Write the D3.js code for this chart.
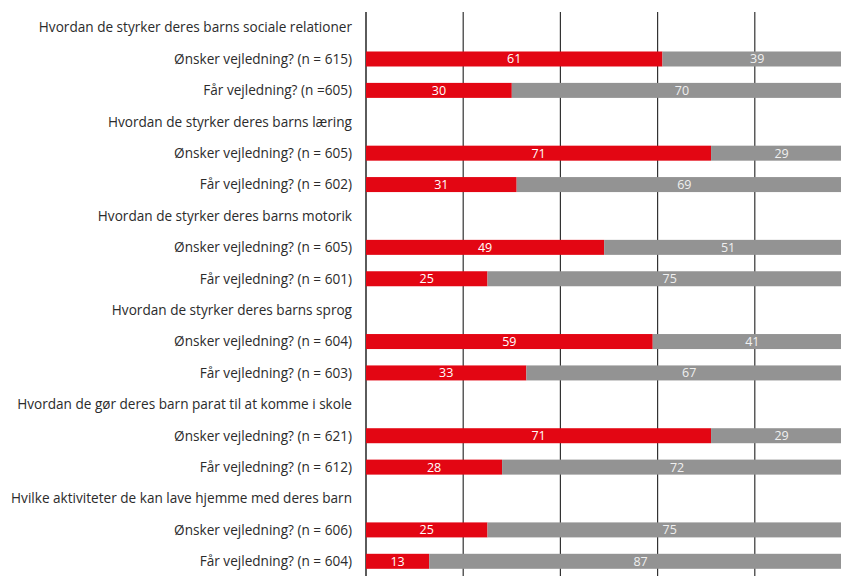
<!DOCTYPE html>
<html>
<head>
<meta charset="utf-8">
<script src="https://cdn.jsdelivr.net/npm/d3@7"></script>
<style>
  body { margin: 0; background: #fff; }
  text { font-family: "Open Sans", "Noto Sans", sans-serif; }
</style>
</head>
<body>
<script>
// Spørgsmål og svar (procent)
var questions = [
  "Hvordan de styrker deres barns sociale relationer",
  "Hvordan de styrker deres barns læring",
  "Hvordan de styrker deres barns motorik",
  "Hvordan de styrker deres barns sprog",
  "Hvordan de gør deres barn parat til at komme i skole",
  "Hvilke aktiviteter de kan lave hjemme med deres barn"
];
var onskerLabels = ["Ønsker vejledning? (n = 615)", "Ønsker vejledning? (n = 605)", "Ønsker vejledning? (n = 605)",
                    "Ønsker vejledning? (n = 604)", "Ønsker vejledning? (n = 621)", "Ønsker vejledning? (n = 606)"];
var faarLabels = ["Får vejledning? (n =605)", "Får vejledning? (n = 602)", "Får vejledning? (n = 601)",
                  "Får vejledning? (n = 603)", "Får vejledning? (n = 612)", "Får vejledning? (n = 604)"];
var onskerJa = [61, 71, 49, 59, 71, 25];
var onskerNej = [39, 29, 51, 41, 29, 75];
var faarJa = [30, 31, 25, 33, 28, 13];
var faarNej = [70, 69, 75, 67, 72, 87];
var gridTicks = [0, 20, 40, 60, 80, 100];

var width = 841, height = 576;
var svg = d3.select("body").append("svg")
  .attr("width", width)
  .attr("height", height);

// build rows: header, ønsker, får
var rows = [];
questions.forEach(function(q, i) {
  rows.push({label: q, header: true});
  rows.push({label: onskerLabels[i], ja: onskerJa[i], nej: onskerNej[i]});
  rows.push({label: faarLabels[i], ja: faarJa[i], nej: faarNej[i]});
});

var x = d3.scaleLinear().domain([0, 100]).range([366, 852]);
var y = d3.scalePoint().domain(d3.range(rows.length)).range([27.6, 561.3]);
var barH = 15;

// bars
var bars = svg.selectAll("g.row")
  .data(rows.map(function(d, i) { d.i = i; return d; }).filter(function(d) { return !d.header; }))
  .enter().append("g").attr("class", "row");

bars.append("rect")
  .attr("x", x(0))
  .attr("y", function(d) { return y(d.i) - barH / 2; })
  .attr("width", function(d) { return x(d.ja) - x(0); })
  .attr("height", barH)
  .style("fill", "#e30613");

bars.append("rect")
  .attr("x", function(d) { return x(d.ja); })
  .attr("y", function(d) { return y(d.i) - barH / 2; })
  .attr("width", function(d) { return x(d.ja + d.nej) - x(d.ja); })
  .attr("height", barH)
  .style("fill", "#939393");

bars.append("text")
  .attr("x", function(d) { return x(d.ja / 2); })
  .attr("y", function(d) { return y(d.i); })
  .attr("dy", "0.36em")
  .attr("text-anchor", "middle")
  .style("font-size", "12.5px")
  .style("fill", "#fff")
  .text(function(d) { return d.ja; });

bars.append("text")
  .attr("x", function(d) { return x(d.ja + d.nej / 2); })
  .attr("y", function(d) { return y(d.i); })
  .attr("dy", "0.36em")
  .attr("text-anchor", "middle")
  .style("font-size", "12.5px")
  .style("fill", "#f0f0f0")
  .text(function(d) { return d.nej; });

// grid lines (behind bars)
svg.insert("g", "g.row").selectAll("line")
  .data(gridTicks)
  .enter().append("line")
  .attr("x1", function(d) { return x(d); })
  .attr("x2", function(d) { return x(d); })
  .attr("y1", 12)
  .attr("y2", height)
  .style("stroke", "#333")
  .style("stroke-width", function(d) { return d === 0 ? 1.6 : 1.2; });

// row labels
svg.selectAll("text.label")
  .data(rows)
  .enter().append("text")
  .attr("class", "label")
  .attr("x", 352)
  .attr("y", function(d, i) { return y(i); })
  .attr("dy", "0.36em")
  .attr("text-anchor", "end")
  .style("font-size", "13.6px")
  .style("fill", "#2b2b2b")
  .text(function(d) { return d.label; });
</script>
</body>
</html>
